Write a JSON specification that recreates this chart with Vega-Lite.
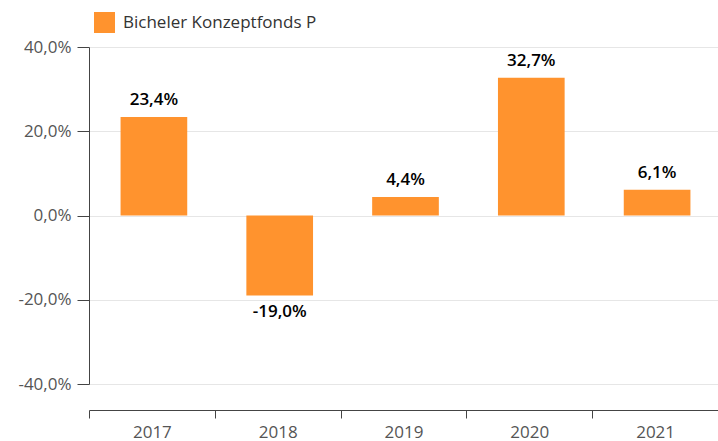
{
  "$schema": "https://vega.github.io/schema/vega-lite/v6.json",
  "width": 629,
  "height": 337,
  "autosize": {"type": "none"},
  "padding": {"left": 89, "top": 47, "right": 0, "bottom": 57},
  "config": {
    "locale": {"number": {"decimal": ",", "thousands": ".", "grouping": [3], "currency": ["", " €"], "minus": "-"}},
    "font": "Open Sans",
    "view": {"stroke": null}
  },
  "data": {
    "values": [
      {"year": "2017", "value": 0.234, "series": "Bicheler Konzeptfonds P"},
      {"year": "2018", "value": -0.19, "series": "Bicheler Konzeptfonds P"},
      {"year": "2019", "value": 0.044, "series": "Bicheler Konzeptfonds P"},
      {"year": "2020", "value": 0.327, "series": "Bicheler Konzeptfonds P"},
      {"year": "2021", "value": 0.061, "series": "Bicheler Konzeptfonds P"}
    ]
  },
  "encoding": {
    "x": {
      "field": "year", "type": "nominal",
      "scale": {"paddingInner": 0, "paddingOuter": 0},
      "axis": {
        "title": null, "labelAngle": 0, "offset": 26,
        "domainColor": "#444", "tickColor": "#444", "tickBand": "extent", "tickSize": 8,
        "labelFontSize": 17, "labelColor": "#555", "labelPadding": 6, "grid": false
      }
    },
    "y": {
      "field": "value", "type": "quantitative",
      "scale": {"domain": [-0.4, 0.4], "nice": false},
      "axis": {
        "title": null, "format": ".1%", "values": [-0.4, -0.2, 0, 0.2, 0.4],
        "domainColor": "#444", "tickColor": "#444", "tickSize": 12,
        "labelFontSize": 17, "labelColor": "#555", "labelPadding": 6,
        "gridColor": "#e6e6e6", "grid": true
      }
    }
  },
  "layer": [
    {
      "mark": {"type": "bar", "width": {"band": 0.53}, "xOffset": 2},
      "encoding": {
        "color": {
          "field": "series", "type": "nominal",
          "scale": {"range": ["#ff932e"]},
          "legend": {
            "title": null, "orient": "top", "offset": 9, "padding": 5,
            "symbolType": "square", "symbolSize": 441, "symbolStrokeWidth": 0,
            "labelFontSize": 17, "labelColor": "#333", "labelOffset": 8, "labelLimit": 400
          }
        }
      }
    },
    {
      "transform": [{"filter": "datum.value >= 0"}],
      "mark": {"type": "text", "baseline": "bottom", "dy": -8, "dx": 2, "fontSize": 17, "fontWeight": 600, "color": "#000"},
      "encoding": {"text": {"field": "value", "type": "quantitative", "format": ".1%"}}
    },
    {
      "transform": [{"filter": "datum.value < 0"}],
      "mark": {"type": "text", "baseline": "top", "dy": 8, "dx": 2, "fontSize": 17, "fontWeight": 600, "color": "#000"},
      "encoding": {"text": {"field": "value", "type": "quantitative", "format": ".1%"}}
    }
  ]
}
